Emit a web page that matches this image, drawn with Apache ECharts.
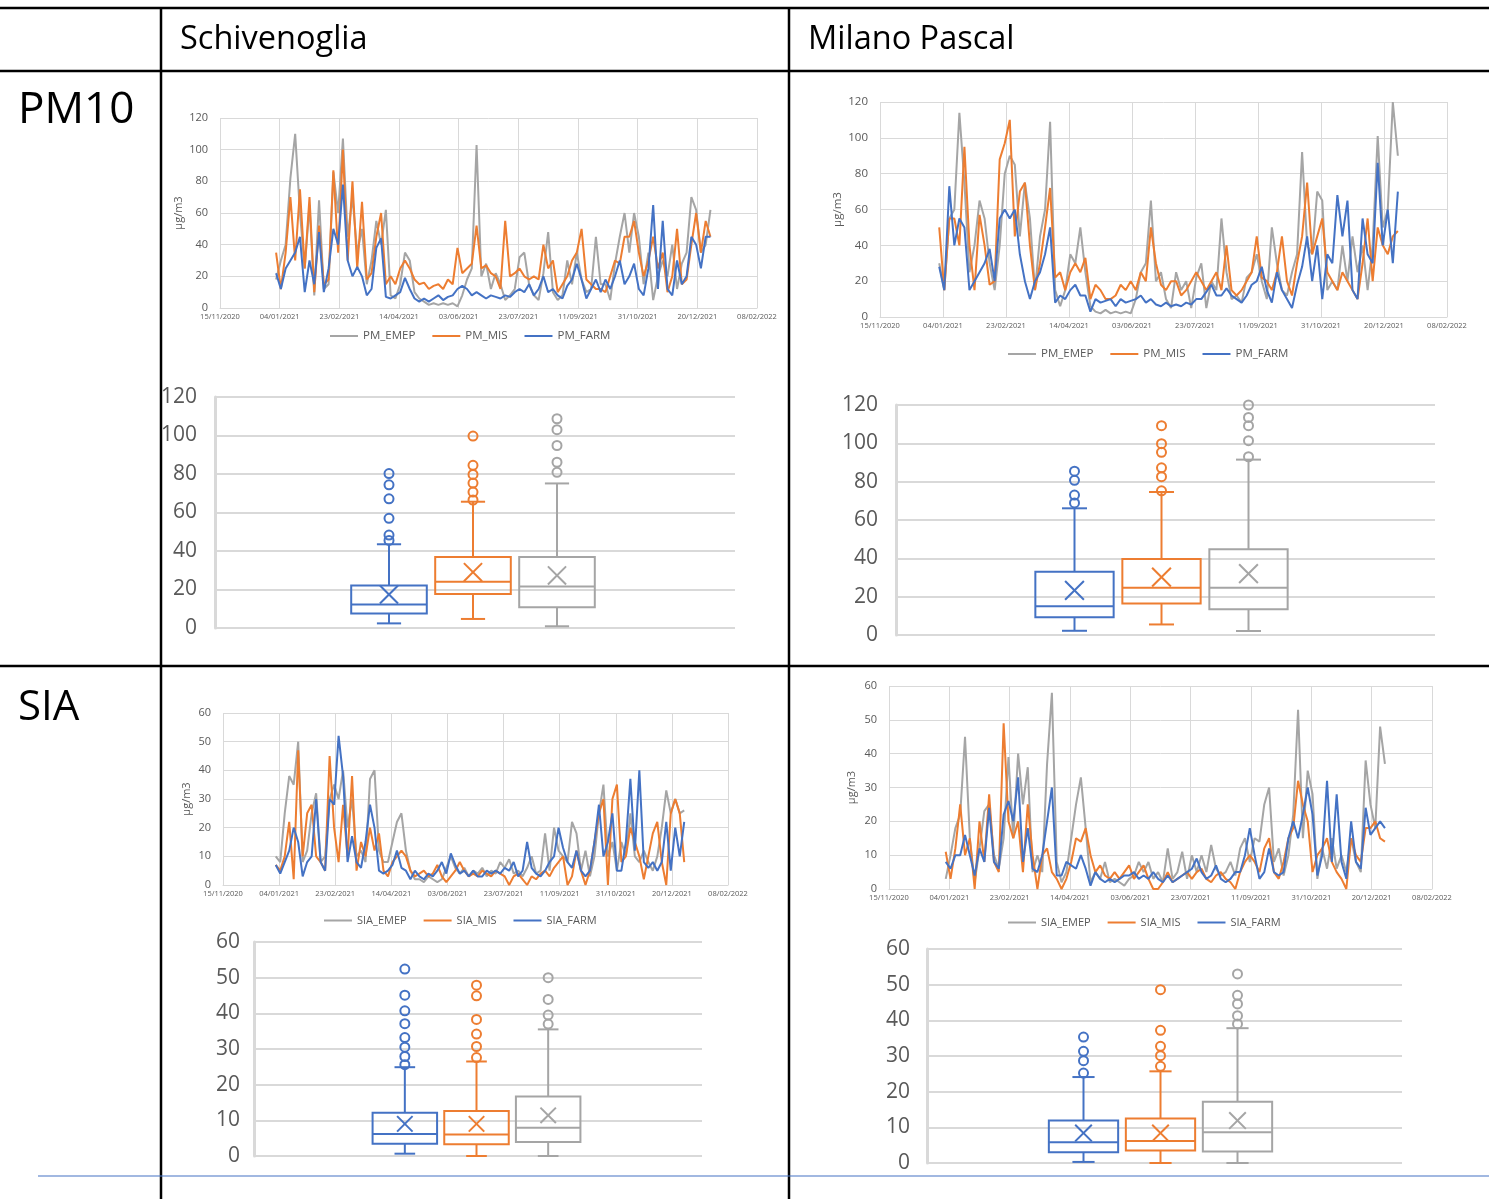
<!DOCTYPE html>
<html><head><meta charset="utf-8">
<script src="https://cdn.jsdelivr.net/npm/echarts/dist/echarts.min.js"></script>
<style>html,body{margin:0;padding:0;background:#fff;}#c{width:1489px;height:1199px;}</style>
</head><body><div id="c"></div>
<script>
// ---------------- DATA ----------------
// x positions: days since 15/11/2020; samples every 4 days from 01/01/2021
const firstDay = 47;
const stepDays = 4;
const pmNames = ['PM_EMEP', 'PM_MIS', 'PM_FARM'];
const siaNames = ['SIA_EMEP', 'SIA_MIS', 'SIA_FARM'];
const boxCategories = ['FARM', 'MIS', 'EMEP'];

// PM10 – Schivenoglia
const pm10SchEMEP = [18,30,40,82,110,60,25,65,8,68, 12,15,86,60,107,45,70,35,50,15, 30,55,40,62,8,6,15,35,30,10, 6,4,2,3,2,3,2,3,1,8, 18,25,103,20,28,12,22,15,5,8, 12,32,35,15,8,5,22,48,10,5, 8,30,15,35,18,10,12,45,15,15, 5,28,45,60,35,60,45,15,35,5, 20,30,20,40,12,28,35,70,62,35, 40,62];
const pm10SchMIS = [35,12,35,70,30,75,25,70,10,52, 15,18,87,35,100,30,80,25,67,18, 22,45,60,15,20,15,25,30,25,18, 15,16,12,14,15,12,18,15,38,22, 25,28,52,25,27,22,20,12,55,20, 22,25,20,18,20,18,40,25,30,10, 15,20,30,35,50,18,15,12,12,10, 20,30,28,45,45,55,35,20,30,45, 25,35,10,20,50,15,18,40,60,35, 55,45];
const pm10SchFARM = [22,12,25,30,35,45,10,30,15,48, 10,25,50,40,78,30,20,26,20,8, 12,38,44,7,6,8,10,19,12,6, 4,6,4,6,8,5,7,8,12,14, 12,8,10,8,6,8,7,6,8,7, 10,12,10,15,8,12,20,10,12,8, 6,14,18,28,18,6,12,18,10,18, 12,20,30,15,20,28,12,8,25,65, 12,55,12,8,30,15,20,45,40,25, 45,45];

// PM10 – Milano Pascal
const pm10MilEMEP = [30,15,55,60,114,75,25,40,65,55, 30,15,40,80,90,85,45,75,55,15, 45,60,109,15,6,15,35,30,50,25, 6,3,2,4,2,3,2,3,2,10, 25,30,65,20,25,10,5,25,15,20, 5,22,30,5,20,15,55,25,10,12, 8,22,25,35,20,10,50,30,15,12, 25,35,92,40,35,70,65,15,20,15, 40,20,45,25,40,15,40,101,50,60, 120,90];
const pm10MilMIS = [50,15,55,55,40,95,40,15,57,40, 18,20,88,97,110,45,70,75,40,15, 30,50,72,22,25,15,25,30,25,33, 10,18,15,10,10,12,18,15,20,15, 25,20,50,30,18,15,20,20,12,15, 20,25,20,15,20,25,15,40,15,12, 15,20,25,45,22,20,15,25,45,20, 12,30,45,75,35,45,55,25,20,15, 25,20,15,10,30,55,20,50,40,35, 45,48];
const pm10MilFARM = [28,15,73,40,55,50,15,20,25,30, 38,20,55,60,55,60,35,20,10,20, 25,35,50,8,12,10,15,18,12,12, 3,10,8,9,10,6,10,8,9,10, 12,8,10,7,6,8,6,7,6,8, 7,10,10,14,18,12,12,16,12,10, 8,12,18,20,28,15,8,25,15,10, 5,18,28,45,20,40,10,35,30,68, 45,65,15,10,55,35,30,86,40,60, 30,70];

// SIA – Schivenoglia
const siaSchEMEP = [10,8,25,38,35,50,8,12,25,32, 8,10,30,35,30,40,20,30,10,12, 8,37,40,12,8,8,15,22,25,12, 5,2,2,1,3,2,1,2,6,10, 6,4,6,3,5,4,6,3,5,4, 8,6,9,4,5,3,6,10,4,5, 18,5,20,12,10,8,22,18,5,12, 3,10,25,35,10,15,5,15,10,25, 10,8,12,8,5,10,20,33,25,30, 25,26];
const siaSchMIS = [7,5,10,22,2,47,10,25,28,10, 8,5,45,20,8,28,10,38,5,15, 10,20,12,18,5,3,8,10,12,10, 5,3,4,5,3,4,7,3,1,3, 5,8,5,3,4,3,5,4,3,5, 4,3,0,3,4,2,0,3,2,4, 5,3,6,8,10,0,3,12,5,0, 5,15,25,30,0,30,35,8,10,20, 15,10,2,10,18,22,8,0,25,30, 25,8];
const siaSchFARM = [7,4,8,12,20,15,3,8,10,30, 8,5,30,28,52,38,8,17,8,6, 15,28,20,5,4,5,7,12,6,5, 2,5,3,2,4,3,5,8,4,11, 7,4,5,3,5,3,3,5,4,5, 4,6,5,8,3,5,15,6,4,3, 5,8,10,20,13,8,6,12,5,3, 5,15,28,10,15,25,5,5,15,37, 12,40,8,6,8,5,8,22,5,20, 10,22];

// SIA – Milano Pascal
const siaMilEMEP = [3,10,18,22,45,15,2,12,23,25, 10,6,15,39,15,40,25,36,5,10, 5,37,58,8,2,5,15,25,33,18, 2,5,3,8,2,3,2,1,3,4, 8,5,8,3,5,2,12,3,5,11, 3,10,5,10,5,13,6,4,5,8, 4,12,15,8,15,14,25,30,8,12, 4,10,22,53,15,35,28,3,12,6, 15,6,10,5,15,8,5,38,25,18, 48,37];
const siaMilMIS = [11,3,12,25,10,15,0,20,8,28, 8,5,49,20,15,20,5,25,10,0, 10,12,5,3,0,3,8,15,14,18, 10,5,7,4,3,5,3,5,7,3, 5,7,3,0,0,2,5,2,3,4, 5,3,5,6,3,2,4,5,3,2, 0,5,8,10,8,5,12,15,5,3, 8,15,18,32,25,20,5,10,12,15, 8,5,3,0,15,10,8,18,18,20, 15,14];
const siaMilFARM = [8,6,10,10,16,10,4,12,8,24, 8,6,22,26,20,33,8,18,6,5, 10,20,30,4,4,8,7,6,10,6, 1,5,3,2,3,2,3,4,4,5, 3,4,3,5,3,2,4,2,3,4, 5,6,9,5,3,4,7,3,2,3, 5,5,10,18,10,3,5,12,5,4, 5,15,20,15,22,30,22,4,10,32, 8,28,8,3,20,8,6,24,16,18, 20,18];

// Box plots: [lower whisker, Q1, median, Q3, upper whisker], means, outliers (order FARM, MIS, EMEP)
const boxPM10SchFARM = [2.4, 7.5, 12.2, 22.1, 43.5];
const boxPM10SchMIS  = [4.7, 17.7, 24.0, 36.9, 65.6];
const boxPM10SchEMEP = [0.9, 10.8, 21.6, 36.9, 75.1];
const meanPM10Sch = [17.4, 29.0, 27.3];
const outPM10SchFARM = [80.2, 74.4, 67.1, 57.0, 48.3, 45.5];
const outPM10SchMIS  = [99.7, 84.5, 79.8, 75.3, 70.6, 66.5];
const outPM10SchEMEP = [108.7, 103.0, 94.8, 86.1, 80.9];

const boxPM10MilFARM = [2.2, 9.3, 15.0, 33.0, 66.1];
const boxPM10MilMIS  = [5.5, 16.4, 24.7, 39.6, 74.6];
const boxPM10MilEMEP = [2.1, 13.5, 24.7, 44.7, 91.5];
const meanPM10Mil = [23.3, 30.2, 32.0];
const outPM10MilFARM = [85.5, 80.7, 73.0, 68.9];
const outPM10MilMIS  = [109.2, 99.8, 95.3, 87.2, 82.6, 75.2];
const outPM10MilEMEP = [120.0, 113.5, 109.2, 101.4, 93.0];

const boxSIASchFARM = [0.65, 3.4, 6.2, 12.1, 24.9];
const boxSIASchMIS  = [0, 3.3, 6.0, 12.6, 26.5];
const boxSIASchEMEP = [0, 3.9, 7.9, 16.7, 35.5];
const meanSIASch = [9.0, 9.0, 11.4];
const outSIASchFARM = [52.4, 45.1, 40.7, 37.1, 33.2, 30.5, 27.9, 25.6];
const outSIASchMIS  = [47.9, 44.9, 38.3, 34.2, 30.7, 27.6];
const outSIASchEMEP = [50.0, 43.9, 39.5, 37.0];

const boxSIAMilFARM = [0.3, 3.0, 5.8, 11.9, 24.1];
const boxSIAMilMIS  = [0, 3.5, 6.2, 12.5, 25.7];
const boxSIAMilEMEP = [0, 3.2, 8.6, 17.2, 37.8];
const meanSIAMil = [8.4, 8.4, 11.9];
const outSIAMilFARM = [35.3, 31.3, 28.7, 25.2];
const outSIAMilMIS  = [48.6, 37.2, 32.7, 30.1, 27.1];
const outSIAMilEMEP = [53.0, 47.0, 44.6, 41.3, 39.0];

// ---------------- STYLE / LAYOUT ----------------
const FONT = '"Open Sans", Lato, sans-serif';
const C_EMEP = '#A5A5A5', C_MIS = '#ED7D31', C_FARM = '#4472C4';
const LINE_COLORS = [C_EMEP, C_MIS, C_FARM];
const BOX_COLORS = [C_FARM, C_MIS, C_EMEP];
const GRID_C = '#d9d9d9', TXT_C = '#595959';
const BOX_RATIO = 0.9;

const baseMs = Date.UTC(2020, 10, 15);
function pad(n) { return (n < 10 ? '0' : '') + n; }
function fmtDate(v) {
  const d = new Date(baseMs + v * 86400000);
  return pad(d.getUTCDate()) + '/' + pad(d.getUTCMonth() + 1) + '/' + d.getUTCFullYear();
}
function toPairs(vals) { return vals.map((v, i) => [firstDay + stepDays * i, v]); }

const linePanels = [
  { grid: {left: 220, top: 118, width: 537, height: 190}, yMax: 120, yInt: 20, names: pmNames,
    data: [pm10SchEMEP, pm10SchMIS, pm10SchFARM], legend: {left: 330, top: 330}, nameGap: 36, nameSize: 11, ySize: 11, legSize: 11.5 },
  { grid: {left: 880, top: 102, width: 567, height: 215}, yMax: 120, yInt: 20, names: pmNames,
    data: [pm10MilEMEP, pm10MilMIS, pm10MilFARM], legend: {left: 1008, top: 348}, nameGap: 36, nameSize: 11.5, ySize: 11.5, legSize: 11.5 },
  { grid: {left: 223, top: 713, width: 505, height: 172}, yMax: 60, yInt: 10, names: siaNames,
    data: [siaSchEMEP, siaSchMIS, siaSchFARM], legend: {left: 324, top: 915}, nameGap: 31, nameSize: 11, ySize: 11, legSize: 11 },
  { grid: {left: 889, top: 686, width: 543, height: 203}, yMax: 60, yInt: 10, names: siaNames,
    data: [siaMilEMEP, siaMilMIS, siaMilFARM], legend: {left: 1008, top: 917}, nameGap: 32, nameSize: 11, ySize: 11, legSize: 11 }
];

const boxPanels = [
  { bg: {left: 215, top: 397, width: 520, height: 231}, box: {left: 347, width: 252}, yMax: 120, yInt: 20, margin: 18,
    stats: [boxPM10SchFARM, boxPM10SchMIS, boxPM10SchEMEP], means: meanPM10Sch, outs: [outPM10SchFARM, outPM10SchMIS, outPM10SchEMEP] },
  { bg: {left: 896, top: 405, width: 539, height: 230}, box: {left: 1031, width: 261}, yMax: 120, yInt: 20, margin: 18,
    stats: [boxPM10MilFARM, boxPM10MilMIS, boxPM10MilEMEP], means: meanPM10Mil, outs: [outPM10MilFARM, outPM10MilMIS, outPM10MilEMEP] },
  { bg: {left: 254, top: 942, width: 448, height: 214}, box: {left: 369, width: 215}, yMax: 60, yInt: 10, margin: 14,
    stats: [boxSIASchFARM, boxSIASchMIS, boxSIASchEMEP], means: meanSIASch, outs: [outSIASchFARM, outSIASchMIS, outSIASchEMEP] },
  { bg: {left: 927, top: 949, width: 475, height: 214}, box: {left: 1045, width: 231}, yMax: 60, yInt: 10, margin: 17,
    stats: [boxSIAMilFARM, boxSIAMilMIS, boxSIAMilEMEP], means: meanSIAMil, outs: [outSIAMilFARM, outSIAMilMIS, outSIAMilEMEP] }
];

function renderBox(params, api) {
  const c = api.value(0);
  const pLo = api.coord([c, api.value(1)]);
  const pQ1 = api.coord([c, api.value(2)]);
  const pMd = api.coord([c, api.value(3)]);
  const pQ3 = api.coord([c, api.value(4)]);
  const pHi = api.coord([c, api.value(5)]);
  const pMn = api.coord([c, api.value(6)]);
  const band = api.size([1, 0])[0];
  const w = band * BOX_RATIO, cap = w * 0.32, xs = w * 0.12;
  const x = pMd[0];
  const color = BOX_COLORS[params.dataIndex];
  const ln = (x1, y1, x2, y2) => ({type: 'line', shape: {x1, y1, x2, y2}, style: {stroke: color, lineWidth: 2}});
  return {type: 'group', children: [
    {type: 'rect', shape: {x: x - w / 2, y: pQ3[1], width: w, height: pQ1[1] - pQ3[1]}, style: {stroke: color, lineWidth: 2, fill: 'rgba(0,0,0,0)'}},
    ln(x - w / 2, pMd[1], x + w / 2, pMd[1]),
    ln(x, pQ3[1], x, pHi[1]),
    ln(x - cap / 2, pHi[1], x + cap / 2, pHi[1]),
    ln(x, pQ1[1], x, pLo[1]),
    ln(x - cap / 2, pLo[1], x + cap / 2, pLo[1]),
    ln(x - xs, pMn[1] - xs, x + xs, pMn[1] + xs),
    ln(x - xs, pMn[1] + xs, x + xs, pMn[1] - xs)
  ]};
}

const option = {
  animation: false,
  backgroundColor: '#fff',
  textStyle: {fontFamily: FONT},
  grid: [], xAxis: [], yAxis: [], series: [], legend: [], graphic: []
};

linePanels.forEach((p, k) => {
  option.grid.push(Object.assign({containLabel: false, outerBoundsMode: 'none'}, p.grid));
  option.xAxis.push({
    gridIndex: k, type: 'value', min: 0, max: 450, interval: 50,
    axisLine: {show: true, lineStyle: {color: GRID_C}}, axisTick: {show: false},
    splitLine: {show: true, lineStyle: {color: GRID_C, width: 1}},
    axisLabel: {formatter: fmtDate, fontSize: 7.5, color: TXT_C, margin: 5, fontFamily: FONT, hideOverlap: false}
  });
  option.yAxis.push({
    gridIndex: k, type: 'value', min: 0, max: p.yMax, interval: p.yInt,
    name: 'µg/m3', nameLocation: 'middle', nameGap: p.nameGap,
    nameTextStyle: {fontSize: p.nameSize, color: TXT_C, fontFamily: FONT},
    axisLine: {show: false}, axisTick: {show: false},
    splitLine: {show: true, lineStyle: {color: GRID_C, width: 1}},
    axisLabel: {fontSize: p.ySize, color: TXT_C, margin: 12, fontFamily: FONT}
  });
  p.names.forEach((nm, j) => {
    option.series.push({
      type: 'line', name: nm, xAxisIndex: k, yAxisIndex: k, data: toPairs(p.data[j]),
      symbol: 'none', showSymbol: false, smooth: false,
      lineStyle: {width: 2, color: LINE_COLORS[j]}, itemStyle: {color: LINE_COLORS[j]}, z: 2 + j
    });
  });
  option.legend.push({
    left: p.legend.left, top: p.legend.top, orient: 'horizontal', padding: 0,
    icon: 'rect', itemWidth: 28, itemHeight: 2, itemGap: 17, selectedMode: false,
    textStyle: {fontSize: p.legSize, color: TXT_C, fontFamily: FONT}, data: p.names
  });
});

boxPanels.forEach((p, k) => {
  const gBg = 4 + k, gBox = 8 + k;
  option.grid[gBg] = Object.assign({containLabel: false, outerBoundsMode: 'none'}, p.bg);
  option.grid[gBox] = {containLabel: false, outerBoundsMode: 'none', left: p.box.left, width: p.box.width, top: p.bg.top, height: p.bg.height};
  option.xAxis[gBg] = {gridIndex: gBg, type: 'category', data: [''], show: false};
  option.yAxis[gBg] = {
    gridIndex: gBg, type: 'value', min: 0, max: p.yMax, interval: p.yInt,
    axisLine: {show: true, lineStyle: {color: GRID_C, width: 3}}, axisTick: {show: false},
    splitLine: {show: true, lineStyle: {color: GRID_C, width: 2}},
    axisLabel: {fontSize: 21, color: TXT_C, margin: p.margin, fontFamily: FONT}
  };
  option.xAxis[gBox] = {gridIndex: gBox, type: 'category', data: boxCategories, show: false, boundaryGap: true};
  option.yAxis[gBox] = {gridIndex: gBox, type: 'value', min: 0, max: p.yMax, show: false};
  option.series.push({
    type: 'custom', name: 'box' + k, xAxisIndex: gBox, yAxisIndex: gBox, clip: false, z: 5,
    renderItem: renderBox,
    encode: {x: 0, y: [1, 2, 3, 4, 5, 6]},
    data: p.stats.map((s, i) => [i].concat(s, [p.means[i]]))
  });
  p.outs.forEach((arr, i) => {
    option.series.push({
      type: 'scatter', name: 'out' + k + '_' + i, xAxisIndex: gBox, yAxisIndex: gBox, z: 6,
      symbol: 'circle', symbolSize: 9, clip: false,
      itemStyle: {color: 'rgba(0,0,0,0)', borderColor: BOX_COLORS[i], borderWidth: 2, opacity: 1},
      data: arr.map(v => [i, v])
    });
  });
});

// table frame and headers
const black = '#000';
function tl(x1, y1, x2, y2, w, c) {
  return {type: 'line', silent: true, z: 100, shape: {x1, y1, x2, y2}, style: {stroke: c || black, lineWidth: w || 2.5}};
}
function tx(x, y, t, size) {
  return {type: 'text', silent: true, z: 100, x: x, y: y,
    style: {text: t, fontSize: size, fontFamily: FONT, fill: '#000', align: 'left', verticalAlign: 'middle'}};
}
option.graphic = [
  tl(0, 8, 1489, 8), tl(0, 71, 1489, 71), tl(0, 666, 1489, 666),
  tl(161, 7, 161, 1199), tl(789, 7, 789, 1199),
  tl(38, 1176, 1489, 1176, 1.2, '#4472C4'),
  tx(180, 40, 'Schivenoglia', 32.5), tx(808, 40, 'Milano Pascal', 32.5),
  tx(18, 110, 'PM10', 44), tx(18, 708, 'SIA', 42)
];

const chart = echarts.init(document.getElementById('c'), null, {renderer: 'canvas'});
chart.setOption(option);
</script></body></html>
